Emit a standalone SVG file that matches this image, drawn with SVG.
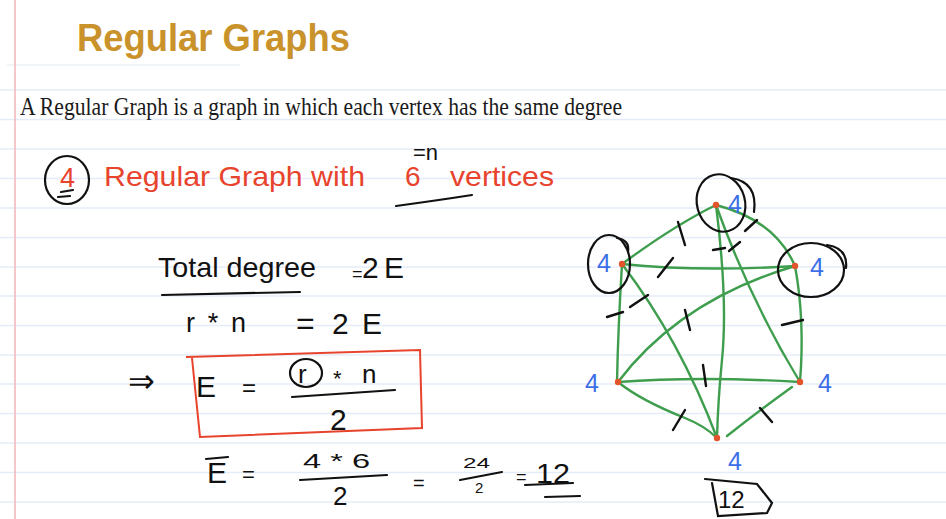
<svg xmlns="http://www.w3.org/2000/svg" width="946" height="519" viewBox="0 0 946 519">
<style>
.rule{stroke:#e3ecf7;stroke-width:1.5}
.hand{font-family:"Liberation Sans","DejaVu Sans",sans-serif;fill:#111}
.red{font-family:"Liberation Sans","DejaVu Sans",sans-serif;fill:#e8432c}
.blue{font-family:"Liberation Sans","DejaVu Sans",sans-serif;fill:#3c6ee8;font-size:25px}
.ink{fill:none;stroke:#111;stroke-width:2.2;stroke-linecap:round}
.edge{fill:none;stroke:#3e9e4e;stroke-width:2.4;stroke-linecap:round}
.tick{fill:none;stroke:#111;stroke-width:2.4;stroke-linecap:round}
.dot{fill:#e2542c}
</style>
<rect width="946" height="519" fill="#ffffff"/>
<!-- ruled paper -->
<g id="paper">
<line class="rule" x1="0" y1="90" x2="946" y2="90"/>
<line class="rule" x1="0" y1="119.5" x2="946" y2="119.5"/>
<line class="rule" x1="0" y1="149" x2="946" y2="149"/>
<line class="rule" x1="0" y1="178.5" x2="946" y2="178.5"/>
<line class="rule" x1="0" y1="208" x2="946" y2="208"/>
<line class="rule" x1="0" y1="237.5" x2="946" y2="237.5"/>
<line class="rule" x1="0" y1="267" x2="946" y2="267"/>
<line class="rule" x1="0" y1="296" x2="946" y2="296"/>
<line class="rule" x1="0" y1="325.5" x2="946" y2="325.5"/>
<line class="rule" x1="0" y1="355" x2="946" y2="355"/>
<line class="rule" x1="0" y1="384" x2="946" y2="384"/>
<line class="rule" x1="0" y1="413.5" x2="946" y2="413.5"/>
<line class="rule" x1="0" y1="443" x2="946" y2="443"/>
<line class="rule" x1="0" y1="472.5" x2="946" y2="472.5"/>
<line class="rule" x1="0" y1="502" x2="946" y2="502"/>
<line x1="7" y1="65" x2="240" y2="65" stroke="#e6ebf2" stroke-width="1.2"/>
<line x1="15" y1="0" x2="15" y2="519" stroke="#f3b9bd" stroke-width="1.6"/>
</g>
<!-- heading -->
<text x="77" y="51" font-family="Liberation Sans, Arial, sans-serif" font-weight="bold" font-size="39" fill="#c9922b" textLength="273" lengthAdjust="spacingAndGlyphs">Regular Graphs</text>
<text x="20" y="115" font-family="Liberation Serif, Times New Roman, serif" font-size="26" fill="#1a1a1a" textLength="602" lengthAdjust="spacingAndGlyphs">A Regular Graph is a graph in which each vertex has the same degree</text>
<!-- red line -->
<g id="statement">
<ellipse class="ink" cx="67" cy="180" rx="22" ry="24"/>
<text class="red" x="60" y="187" font-size="27">4</text>
<path class="ink" d="M61,192 L73,190 M58,197 L70,196"/>
<text class="red" x="104" y="186" font-size="28" textLength="261" lengthAdjust="spacingAndGlyphs">Regular Graph with</text>
<text class="red" x="405" y="186" font-size="28">6</text>
<text class="red" x="450" y="186" font-size="28" textLength="104" lengthAdjust="spacingAndGlyphs">vertices</text>
<path class="ink" d="M396,206 Q440,200 472,195"/>
<text class="hand" x="413" y="160" font-size="22">=n</text>
</g>
<!-- derivation -->
<g id="derivation">
<text class="hand" x="158" y="277" font-size="28" textLength="158" lengthAdjust="spacingAndGlyphs">Total degree</text>
<text class="hand" x="352" y="280" font-size="18">=</text>
<text class="hand" x="362" y="278" font-size="30">2</text>
<text class="hand" x="384" y="278" font-size="30">E</text>
<path class="ink" d="M162,295 L300,292"/>
<text class="hand" x="186" y="332" font-size="27" textLength="60" lengthAdjust="spacing">r*n</text>
<text class="hand" x="296" y="334" font-size="32">=</text>
<text class="hand" x="332" y="334" font-size="30">2</text>
<text class="hand" x="362" y="334" font-size="30">E</text>
<text class="hand" x="128" y="392" font-size="32">⇒</text>
<path d="M186,357 L420,350 L422,428 L200,437 L192,358" fill="none" stroke="#e8432c" stroke-width="2"/>
<text class="hand" x="196" y="397" font-size="30">E</text>
<text class="hand" x="242" y="396" font-size="24">=</text>
<ellipse class="ink" cx="306" cy="373" rx="16" ry="14"/>
<text class="hand" x="298" y="383" font-size="26">r</text>
<text class="hand" x="333" y="386" font-size="22">*</text>
<text class="hand" x="362" y="383" font-size="26">n</text>
<path class="ink" d="M292,397 L395,390"/>
<text class="hand" x="330" y="430" font-size="30">2</text>
<text class="hand" x="207" y="483" font-size="30">E</text>
<path class="ink" d="M206,459 L228,457"/>
<text class="hand" x="242" y="482" font-size="22">=</text>
<text class="hand" x="303" y="468" font-size="21" textLength="67" lengthAdjust="spacingAndGlyphs">4 * 6</text>
<path class="ink" d="M300,480 L387,475"/>
<text class="hand" x="333" y="505" font-size="26">2</text>
<text class="hand" x="413" y="490" font-size="20">=</text>
<text class="hand" x="463" y="468" font-size="15" textLength="27" lengthAdjust="spacingAndGlyphs">24</text>
<path class="ink" d="M460,480 L502,472"/>
<text class="hand" x="475" y="493" font-size="15">2</text>
<text class="hand" x="516" y="483" font-size="18">=</text>
<text class="hand" x="536" y="483" font-size="28" textLength="34" lengthAdjust="spacingAndGlyphs">12</text>
<path class="ink" d="M525,485 L573,483 M545,497 L580,496"/>
</g>
<!-- edges -->
<g id="connectors">
<path class="edge" d="M716,205 Q675,225 622,264"/>
<path class="edge" d="M716,205 Q775,220 795,266"/>
<path class="edge" d="M716,205 Q728,300 722,360 Q718,400 717,438"/>
<path class="edge" d="M716,205 Q750,300 800,382"/>
<path class="edge" d="M622,264 Q700,272 795,266"/>
<path class="edge" d="M622,264 Q618,330 617,382"/>
<path class="edge" d="M622,264 Q680,340 717,438"/>
<path class="edge" d="M795,266 Q680,300 618,382"/>
<path class="edge" d="M795,266 Q805,320 800,382"/>
<path class="edge" d="M618,382 Q700,376 800,382"/>
<path class="edge" d="M618,382 Q640,400 685,418 Q705,426 717,438"/>
<path class="edge" d="M792,387 Q760,410 727,436"/>
<g id="ticks">
<path class="tick" d="M678,222 L685,245"/>
<path class="tick" d="M745,231 L757,220"/>
<path class="tick" d="M713,250 L725,248"/>
<path class="tick" d="M729,251 L740,242"/>
<path class="tick" d="M658,277 L673,258"/>
<path class="tick" d="M607,317 L623,312"/>
<path class="tick" d="M630,307 L648,295"/>
<path class="tick" d="M685,310 L690,330"/>
<path class="tick" d="M782,325 L803,320"/>
<path class="tick" d="M703,365 L706,386"/>
<path class="tick" d="M673,430 L685,410"/>
<path class="tick" d="M760,408 L772,422"/>
</g>
</g>
<!-- vertices -->
<g id="v-top">
<circle class="dot" cx="716" cy="205" r="3.2"/>
<text class="blue" x="728" y="213">4</text>
<ellipse class="ink" cx="721" cy="203" rx="24" ry="29" transform="rotate(-15 721 203)"/>
<path class="ink" d="M731,178 Q758,182 754,212"/>
</g>
<g id="v-lu">
<circle class="dot" cx="622" cy="264" r="3.2"/>
<text class="blue" x="597" y="272">4</text>
<ellipse class="ink" cx="609" cy="264" rx="21" ry="29"/>
<path class="ink" d="M617,238 Q630,240 628,252"/>
</g>
<g id="v-ru">
<circle class="dot" cx="795" cy="266" r="3.2"/>
<text class="blue" x="810" y="276">4</text>
<ellipse class="ink" cx="811" cy="270" rx="33" ry="27"/>
<path class="ink" d="M827,245 Q848,248 846,268"/>
</g>
<g id="v-ll">
<circle class="dot" cx="618" cy="382" r="3.2"/>
<text class="blue" x="585" y="392">4</text>
</g>
<g id="v-rl">
<circle class="dot" cx="800" cy="382" r="3.2"/>
<text class="blue" x="818" y="392">4</text>
</g>
<g id="v-b">
<circle class="dot" cx="717" cy="438" r="3.2"/>
<text class="blue" x="728" y="470">4</text>
</g>
<g id="total">
<path class="ink" d="M705,479 L757,484 L772,503 L767,513 L718,516 L712,483"/>
<text class="hand" x="718" y="508" font-size="24">12</text>
</g>
</svg>
